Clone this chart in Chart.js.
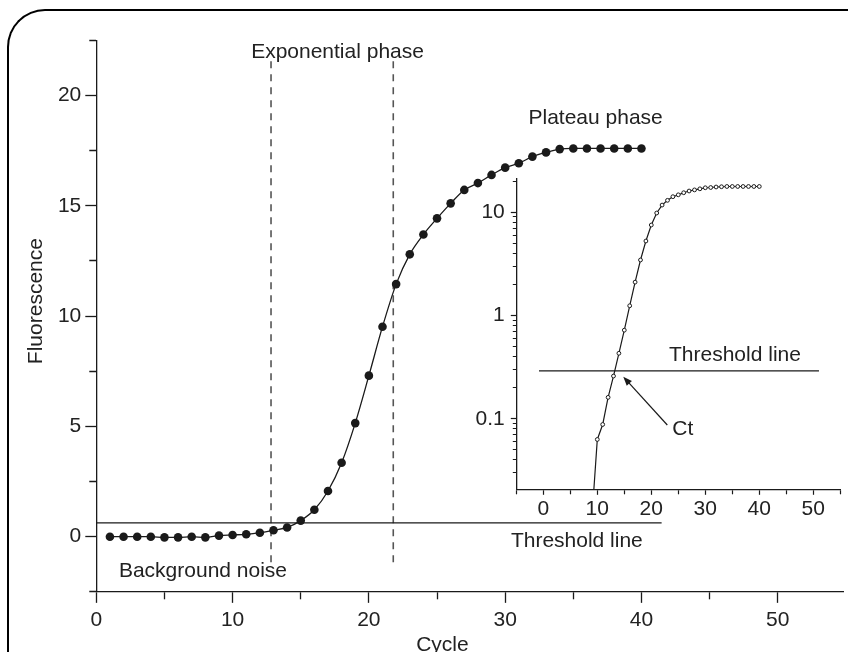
<!DOCTYPE html>
<html>
<head>
<meta charset="utf-8">
<script src="https://cdn.jsdelivr.net/npm/chart.js@4.4.0/dist/chart.umd.min.js"></script>
<style>
html, body { margin: 0; padding: 0; background: #fff; overflow: hidden; }
body { width: 848px; height: 652px; position: relative; }
#frame { position: absolute; left: 7px; top: 9px; width: 900px; height: 700px;
  border-top: 2px solid #000; border-left: 2px solid #000; border-top-left-radius: 38px; }
#main { position: absolute; left: 0; top: 0; }
#inset { position: absolute; left: 470px; top: 160px; }
</style>
</head>
<body>
<div id="frame"></div>
<canvas id="main" width="848" height="652"></canvas>
<canvas id="inset" width="378" height="372"></canvas>
<script>
// main amplification curve
const cycles = [1,2,3,4,5,6,7,8,9,10,11,12,13,14,15,16,17,18,19,20,21,22,23,24,25,26,27,28,29,30,31,32,33,34,35,36,37,38,39,40]
const fluorescence = [0,0,0,0,-0.03,-0.03,0,-0.03,0.05,0.08,0.11,0.18,0.29,0.42,0.73,1.22,2.07,3.35,5.15,7.3,
  9.52,11.45,12.8,13.7,14.43,15.11,15.72,16.03,16.4,16.73,16.93,17.23,17.42,17.57,17.6,17.6,17.6,17.6,17.6,17.6]
const thresholdMain = 0.63
const thresholdMainEnd = 41.48
const phaseStart = 12.82
const phaseEnd = 21.79
const phaseTop = 21.61
const phaseBottom = -1.16
const xTicksMain = [0,5,10,15,20,25,30,35,40,45,50]
const yTicksMain = [-2.5,0,2.5,5,7.5,10,12.5,15,17.5,20,22.5]

// inset, log scale
const insetCycles = [9,10,11,12,13,14,15,16,17,18,19,20,21,22,23,24,25,26,27,28,29,30,31,32,33,34,35,36,37,38,39,40]
const insetValues = [0.011,0.063,0.088,0.161,0.259,0.43,0.72,1.24,2.1,3.44,5.25,7.5,9.8,11.7,13.0,14.1,
  14.7,15.4,16.0,16.4,16.8,17.2,17.3,17.5,17.6,17.7,17.7,17.7,17.7,17.7,17.7,17.7]
const thresholdInset = 0.29
const thresholdInsetStart = -0.8
const thresholdInsetEnd = 51.05
const xTicksInset = [-5,0,5,10,15,20,25,30,35,40,45,50,55]
const yTicksInset = [0.03,0.04,0.05,0.06,0.07,0.08,0.09,0.1,0.2,0.3,0.4,0.5,0.6,0.7,0.8,0.9,1,2,3,4,5,6,7,8,9,10,20]

const FONT = '"Liberation Sans", Arial, sans-serif'
const INK = '#1a1a1a'
Chart.defaults.font.family = FONT
Chart.defaults.font.size = 21
Chart.defaults.color = '#222'

// text labels, anchored in data units
const mainTexts = [
    {text: 'Exponential phase', x: 17.7, y: 21.69, align: 'center'},
    {text: 'Plateau phase', x: 31.71, y: 18.69},
    {text: 'Background noise', x: 1.66, y: -1.84},
    {text: 'Threshold line', x: 30.42, y: -0.45},
    {text: 'Cycle', x: 23.47, y: -5.18},
    {text: 'Fluorescence', x: -4.0, y: 10.68, align: 'center', rotate: -Math.PI/2}
]
const insetTexts = [
    {text: 'Threshold line', x: 23.28, y: 0.36},
    {text: 'Ct', x: 23.9, y: 0.07}
]
const ctArrow = {from: [22.96, 0.087], to: [14.81, 0.255]}

function textPlugin(items, arrow){
    return {
        id: 'texts',
        afterDatasetsDraw(chart){
            const {ctx, scales: {x, y}} = chart
            ctx.save()
            ctx.fillStyle = '#222'
            ctx.font = '21px ' + FONT
            ctx.textBaseline = 'alphabetic'
            items.forEach(t => {
                ctx.save()
                ctx.translate(x.getPixelForValue(t.x), y.getPixelForValue(t.y))
                if(t.rotate) ctx.rotate(t.rotate)
                ctx.textAlign = t.align || 'left'
                ctx.fillText(t.text, 0, 0)
                ctx.restore()
            })
            if(arrow){
                const x0 = x.getPixelForValue(arrow.from[0]), y0 = y.getPixelForValue(arrow.from[1])
                const x1 = x.getPixelForValue(arrow.to[0]), y1 = y.getPixelForValue(arrow.to[1])
                const a = Math.atan2(y1 - y0, x1 - x0)
                ctx.strokeStyle = INK
                ctx.lineWidth = 1.2
                ctx.beginPath()
                ctx.moveTo(x0, y0)
                ctx.lineTo(x1 - 6 * Math.cos(a), y1 - 6 * Math.sin(a))
                ctx.stroke()
                ctx.fillStyle = INK
                ctx.beginPath()
                ctx.moveTo(x1, y1)
                ctx.lineTo(x1 - 9 * Math.cos(a) + 3.5 * Math.sin(a), y1 - 9 * Math.sin(a) - 3.5 * Math.cos(a))
                ctx.lineTo(x1 - 9 * Math.cos(a) - 3.5 * Math.sin(a), y1 - 9 * Math.sin(a) + 3.5 * Math.cos(a))
                ctx.closePath()
                ctx.fill()
            }
            ctx.restore()
        }
    }
}

function setTicks(values){
    return scale => { scale.ticks = values.map(v => ({value: v})) }
}

// main chart
new Chart(document.getElementById('main'), {
    type: 'scatter',
    data: {
        datasets: [
            {
                data: cycles.map((c, i) => ({x: c, y: fluorescence[i]})),
                showLine: true,
                cubicInterpolationMode: 'monotone',
                borderColor: INK,
                borderWidth: 1.3,
                pointRadius: 4.3,
                pointBackgroundColor: INK,
                pointBorderWidth: 0
            },
            {
                data: [{x: 0, y: thresholdMain}, {x: thresholdMainEnd, y: thresholdMain}],
                showLine: true, borderColor: INK, borderWidth: 1.3, pointRadius: 0
            },
            {
                data: [{x: phaseStart, y: phaseBottom}, {x: phaseStart, y: phaseTop}],
                showLine: true, borderColor: '#555', borderWidth: 1.6, borderDash: [7, 6], pointRadius: 0
            },
            {
                data: [{x: phaseEnd, y: phaseBottom}, {x: phaseEnd, y: phaseTop}],
                showLine: true, borderColor: '#555', borderWidth: 1.6, borderDash: [7, 6], pointRadius: 0
            }
        ]
    },
    options: {
        responsive: false,
        animation: false,
        devicePixelRatio: 1,
        layout: {padding: {top: 40.35, left: 0, right: 0, bottom: 0}},
        plugins: {legend: {display: false}, tooltip: {enabled: false}},
        scales: {
            x: {
                type: 'linear',
                min: 0,
                max: 54.84,
                afterBuildTicks: setTicks(xTicksMain),
                afterFit: s => { s.height = 60.15 },
                ticks: {
                    autoSkip: false,
                    maxRotation: 0,
                    padding: 5,
                    callback: v => (v % 10 === 0 ? String(v) : '')
                },
                grid: {
                    drawOnChartArea: false,
                    tickLength: 11,
                    tickColor: INK,
                    tickWidth: 1.3,
                    tickBorderDash: ctx => (ctx.tick && ctx.tick.value % 10 !== 0 ? [7, 20] : [])
                },
                border: {color: INK, width: 1.3}
            },
            y: {
                type: 'linear',
                min: -2.5,
                max: 22.5,
                afterBuildTicks: setTicks(yTicksMain),
                afterFit: s => { s.width = 96.3 },
                ticks: {
                    autoSkip: false,
                    padding: 4,
                    callback: v => (v >= 0 && v % 5 === 0 ? String(v) : '')
                },
                grid: {
                    drawOnChartArea: false,
                    tickLength: 11,
                    tickColor: INK,
                    tickWidth: 1.3,
                    tickBorderDash: ctx => (ctx.tick && ctx.tick.value % 5 !== 0 ? [0, 4, 7, 20] : [])
                },
                border: {color: INK, width: 1.3}
            }
        }
    },
    plugins: [textPlugin(mainTexts)]
})

// inset chart
new Chart(document.getElementById('inset'), {
    type: 'scatter',
    data: {
        datasets: [
            {
                data: insetCycles.map((c, i) => ({x: c, y: insetValues[i]})),
                showLine: true,
                borderColor: INK,
                borderWidth: 1.2,
                pointRadius: 1.9,
                pointBackgroundColor: '#fff',
                pointBorderColor: INK,
                pointBorderWidth: 1
            },
            {
                data: [{x: thresholdInsetStart, y: thresholdInset}, {x: thresholdInsetEnd, y: thresholdInset}],
                showLine: true, borderColor: INK, borderWidth: 1.3, pointRadius: 0
            }
        ]
    },
    options: {
        responsive: false,
        animation: false,
        devicePixelRatio: 1,
        layout: {padding: {top: 14, left: 0, right: 7.7, bottom: 0}},
        plugins: {legend: {display: false}, tooltip: {enabled: false}},
        scales: {
            x: {
                type: 'linear',
                min: -5,
                max: 55,
                afterBuildTicks: setTicks(xTicksInset),
                afterFit: s => { s.height = 42.7; s.paddingRight = 0 },
                ticks: {
                    autoSkip: false,
                    maxRotation: 0,
                    padding: 2,
                    callback: v => (v >= 0 && v % 10 === 0 ? String(v) : '')
                },
                grid: {
                    drawOnChartArea: false,
                    tickLength: 5.5,
                    tickColor: INK,
                    tickWidth: 1.2,
                    tickBorderDash: ctx => (ctx.tick && ctx.tick.value % 10 !== 0 ? [4, 10] : [])
                },
                border: {color: INK, width: 1.3}
            },
            y: {
                type: 'logarithmic',
                min: 0.02075,
                max: 21.1,
                afterBuildTicks: setTicks(yTicksInset),
                afterFit: s => { s.width = 46.3 },
                ticks: {
                    autoSkip: false,
                    padding: 6,
                    callback: v => ([0.1, 1, 10].includes(v) ? String(v) : '')
                },
                grid: {
                    drawOnChartArea: false,
                    tickLength: 5.5,
                    tickColor: INK,
                    tickWidth: 1.2,
                    tickBorderDash: ctx => (ctx.tick && ![0.1, 1, 10].includes(ctx.tick.value) ? [0, 2, 3.5, 10] : [])
                },
                border: {color: INK, width: 1.3}
            }
        }
    },
    plugins: [textPlugin(insetTexts, ctArrow)]
})
</script>
</body>
</html>
